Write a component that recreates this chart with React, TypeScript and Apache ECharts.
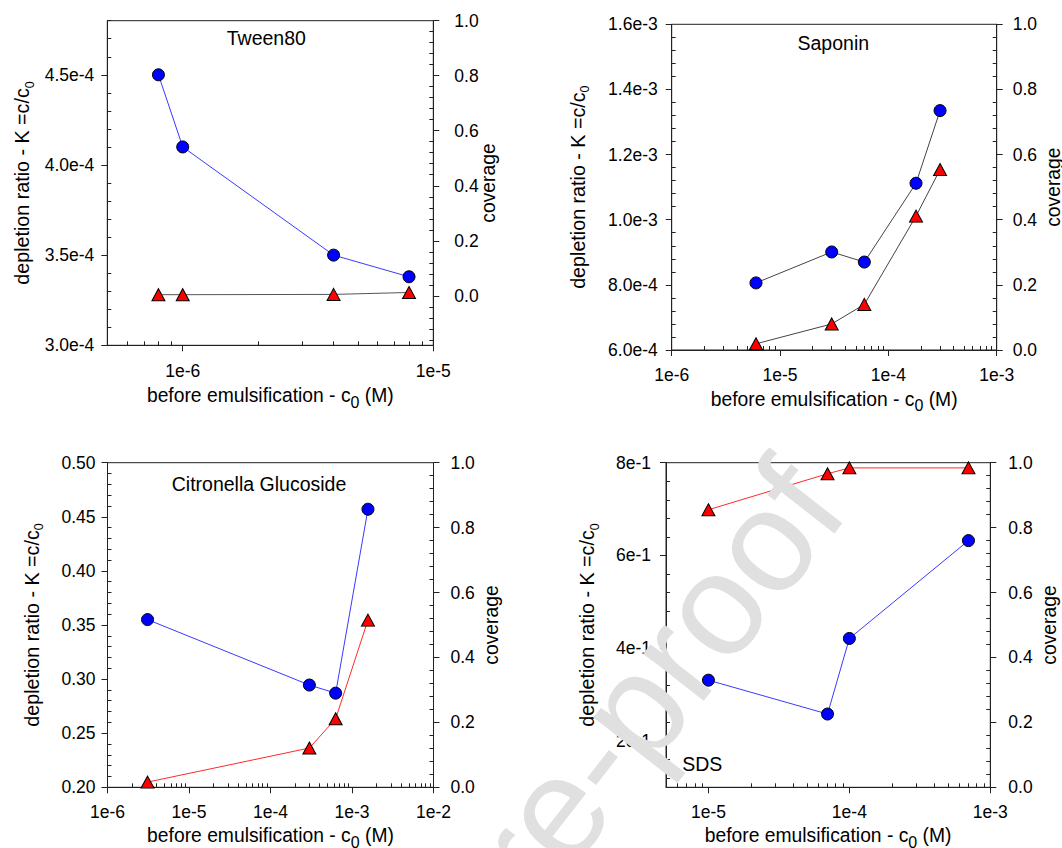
import React, { useEffect, useRef } from 'react';
import * as echarts from 'echarts';

const FONT = '"Liberation Sans", Arial, Helvetica, sans-serif';

// ---------- data ----------
const panelTitles = ['Tween80', 'Saponin', 'Citronella Glucoside', 'SDS'];

const tweenConc = [8e-7, 1e-6, 4e-6, 8e-6];
const tweenDepletion = [4.5e-4, 4.1e-4, 3.5e-4, 3.38e-4];
const tweenCoverage = [0.004, 0.004, 0.005, 0.012];

const saponinConc = [6e-6, 3e-5, 6e-5, 1.8e-4, 3e-4];
const saponinDepletion = [8.06e-4, 9.01e-4, 8.7e-4, 1.112e-3, 1.335e-3];
const saponinCoverage = [0.019, 0.08, 0.14, 0.411, 0.554];

const citroConc = [3.1e-6, 3e-4, 6.3e-4, 1.57e-3];
const citroDepletion = [0.355, 0.2945, 0.287, 0.457];
const citroCoverage = [0.016, 0.121, 0.211, 0.515];

const sdsConc = [1e-5, 7e-5, 1e-4, 7e-4];
const sdsDepletion = [0.331, 0.258, 0.421, 0.632];
const sdsCoverage = [0.855, 0.966, 0.984, 0.984];

// axis ranges / ticks
const xRanges = [[5e-7, 1e-5], [1e-6, 1e-3], [1e-6, 1e-2], [5e-6, 1e-3]];
const leftRanges = [[3.0e-4, 4.8e-4], [6.0e-4, 1.6e-3], [0.2, 0.5], [0.1, 0.8]];
const leftMajors = [
  [3.0e-4, 3.5e-4, 4.0e-4, 4.5e-4],
  [6.0e-4, 8.0e-4, 1.0e-3, 1.2e-3, 1.4e-3, 1.6e-3],
  [0.2, 0.25, 0.3, 0.35, 0.4, 0.45, 0.5],
  [0.2, 0.4, 0.6, 0.8],
];
const leftMinorSteps = [1e-5, 4e-5, 0.01, 0.04];
const rightRanges = [[-0.18, 1.0], [0, 1.0], [0, 1.0], [0, 1.0]];
const rightMajors = [0, 0.2, 0.4, 0.6, 0.8, 1.0];
const rightMinorStep = 0.04;

const leftFormatters = [
  (v: number) => v.toExponential(1),
  (v: number) => v.toExponential(1),
  (v: number) => v.toFixed(2),
  (v: number) => v.toExponential(0),
];

const circleLineColors = ['#3a3aff', '#444444', '#3a3aff', '#3a3aff'];
const triangleLineColors = ['#555555', '#444444', '#ff2a2a', '#ff2a2a'];

// ---------- layout (pixels) ----------
const grids = [
  { left: 107.3, top: 20.7, width: 326, height: 324.6 },
  { left: 671.7, top: 24.3, width: 325, height: 325.7 },
  { left: 107.5, top: 462.7, width: 326, height: 324.6 },
  { left: 666, top: 462.7, width: 324.3, height: 324.6 },
];
const leftLabelMargins = [13, 14, 12, 15];
const rightLabelMargins = [21, 16, 17, 18];
const xLabelMargins = [16.5, 16, 16, 16];
const leftNameGaps = [71, 80, 62, 65];
const rightNameGaps = [46, 47.6, 48, 49.7];
const xNameGaps = [36, 34.5, 34, 34];
const titlePos = [[266.3, 37.7], [833.3, 43.3], [259, 484], [702.3, 764]];

const TICK_FONT = 17.5;

const panelsData = [
  { conc: tweenConc, dep: tweenDepletion, cov: tweenCoverage },
  { conc: saponinConc, dep: saponinDepletion, cov: saponinCoverage },
  { conc: citroConc, dep: citroDepletion, cov: citroCoverage },
  { conc: sdsConc, dep: sdsDepletion, cov: sdsCoverage },
];

const AXIS_COLOR = '#222';

function linMinors(min: number, max: number, base: number, step: number, majors: number[]) {
  const out: number[] = [];
  const k0 = Math.ceil((min - base) / step - 1e-9);
  const k1 = Math.floor((max - base) / step + 1e-9);
  for (let k = k0; k <= k1; k++) {
    const v = +(base + k * step).toPrecision(12);
    if (majors.some((m) => Math.abs(m - v) < step * 1e-3)) continue;
    if (v < min - 1e-12 || v > max + 1e-12) continue;
    out.push(v);
  }
  return out;
}

function logMajors(lmin: number, lmax: number) {
  const out: number[] = [];
  for (let d = Math.ceil(lmin - 1e-9); d <= Math.floor(lmax + 1e-9); d++) out.push(d);
  return out;
}

function logMinors(lmin: number, lmax: number) {
  const out: number[] = [];
  for (let d = Math.floor(lmin) - 1; d <= Math.ceil(lmax); d++) {
    for (let m = 2; m <= 9; m++) {
      const v = d + Math.log10(m);
      if (v > lmin + 1e-9 && v < lmax - 1e-9) out.push(v);
    }
  }
  return out;
}

const yNameRich = {
  a: { fontFamily: FONT, fontSize: 19.7, lineHeight: 28, color: '#000' },
  s: { fontFamily: FONT, fontSize: 12.5, lineHeight: 12, verticalAlign: 'bottom', color: '#000' },
};
const xNameRich = {
  a: { fontFamily: FONT, fontSize: 19.3, lineHeight: 29, color: '#000' },
  s: { fontFamily: FONT, fontSize: 16, lineHeight: 16, verticalAlign: 'bottom', color: '#000' },
};

function buildOption() {
  const grid: any[] = [];
  const xAxis: any[] = [];
  const yAxis: any[] = [];
  const series: any[] = [];
  const graphic: any[] = [];

  for (let i = 0; i < 4; i++) {
    const g = grids[i];
    grid.push({
      left: g.left, top: g.top, width: g.width, height: g.height,
      show: true, borderColor: AXIS_COLOR, borderWidth: 1,
      backgroundColor: 'transparent', containLabel: false, outerBoundsMode: 'none',
    });

    const lmin = Math.log10(xRanges[i][0]);
    const lmax = Math.log10(xRanges[i][1]);
    const xm = logMajors(lmin, lmax);
    xAxis.push({
      type: 'value', gridIndex: i, position: 'bottom', min: lmin, max: lmax,
      axisLine: { show: true, onZero: false, lineStyle: { color: AXIS_COLOR, width: 1 } },
      axisTick: { show: true, inside: false, length: 6, customValues: xm, lineStyle: { color: AXIS_COLOR } },
      axisLabel: {
        show: true, customValues: xm, margin: xLabelMargins[i], fontSize: TICK_FONT, fontFamily: FONT, color: '#000',
        formatter: (v: number) => '1e' + Math.round(v),
      },
      splitLine: { show: false },
      name: '{a|before emulsification - c}{s|0}{a| (M)}',
      nameLocation: 'middle', nameGap: xNameGaps[i], nameMoveOverlap: false,
      nameTextStyle: { fontFamily: FONT, fontSize: 19.3, color: '#000', rich: xNameRich },
    });
    xAxis.push({
      type: 'value', gridIndex: i, position: 'bottom', min: lmin, max: lmax,
      axisLine: { show: false, onZero: false },
      axisTick: { show: true, inside: true, length: 4, customValues: logMinors(lmin, lmax), lineStyle: { color: AXIS_COLOR } },
      axisLabel: { show: false },
      splitLine: { show: false },
    });

    const [ymin, ymax] = leftRanges[i];
    const lm = leftMajors[i];
    yAxis.push({
      type: 'value', gridIndex: i, position: 'left', min: ymin, max: ymax,
      axisLine: { show: true, onZero: false, lineStyle: { color: AXIS_COLOR, width: 1 } },
      axisTick: { show: true, inside: false, length: 6, customValues: lm, lineStyle: { color: AXIS_COLOR } },
      axisLabel: {
        show: true, customValues: lm, margin: leftLabelMargins[i], fontSize: TICK_FONT, fontFamily: FONT, color: '#000',
        formatter: leftFormatters[i],
      },
      splitLine: { show: false },
      name: '{a|depletion ratio - K =c/c}{s|0}',
      nameLocation: 'middle', nameGap: leftNameGaps[i], nameMoveOverlap: false,
      nameTextStyle: { fontFamily: FONT, fontSize: 19.7, color: '#000', rich: yNameRich },
    });
    yAxis.push({
      type: 'value', gridIndex: i, position: 'left', min: ymin, max: ymax,
      axisLine: { show: false, onZero: false },
      axisTick: {
        show: true, inside: true, length: 4,
        customValues: linMinors(ymin, ymax, lm[0], leftMinorSteps[i], lm),
        lineStyle: { color: AXIS_COLOR },
      },
      axisLabel: { show: false },
      splitLine: { show: false },
    });

    const [rmin, rmax] = rightRanges[i];
    yAxis.push({
      type: 'value', gridIndex: i, position: 'right', min: rmin, max: rmax,
      axisLine: { show: true, onZero: false, lineStyle: { color: AXIS_COLOR, width: 1 } },
      axisTick: { show: true, inside: false, length: 6, customValues: rightMajors, lineStyle: { color: AXIS_COLOR } },
      axisLabel: {
        show: true, customValues: rightMajors, margin: rightLabelMargins[i], fontSize: TICK_FONT, fontFamily: FONT, color: '#000',
        formatter: (v: number) => v.toFixed(1),
      },
      splitLine: { show: false },
      name: 'coverage',
      nameLocation: 'middle', nameGap: rightNameGaps[i], nameMoveOverlap: false,
      nameTextStyle: { fontFamily: FONT, fontSize: 19.3, lineHeight: 19, color: '#000' },
    });
    yAxis.push({
      type: 'value', gridIndex: i, position: 'right', min: rmin, max: rmax,
      axisLine: { show: false, onZero: false },
      axisTick: {
        show: true, inside: true, length: 4,
        customValues: linMinors(rmin, rmax, 0, rightMinorStep, rightMajors),
        lineStyle: { color: AXIS_COLOR },
      },
      axisLabel: { show: false },
      splitLine: { show: false },
    });

    const pd = panelsData[i];
    series.push({
      type: 'line', xAxisIndex: 2 * i, yAxisIndex: 4 * i + 2,
      data: pd.conc.map((c, k) => [Math.log10(c), pd.cov[k]]),
      symbol: 'triangle', symbolSize: [13, 12], clip: false, silent: true,
      lineStyle: { color: triangleLineColors[i], width: 1 },
      itemStyle: { color: '#ff0000', borderColor: '#000', borderWidth: 1 },
      z: 3,
    });
    series.push({
      type: 'line', xAxisIndex: 2 * i, yAxisIndex: 4 * i,
      data: pd.conc.map((c, k) => [Math.log10(c), pd.dep[k]]),
      symbol: 'circle', symbolSize: 12, clip: false, silent: true,
      lineStyle: { color: circleLineColors[i], width: 1 },
      itemStyle: { color: '#0000ff', borderColor: '#000', borderWidth: 1 },
      z: 4,
    });

    graphic.push({
      type: 'text', x: titlePos[i][0], y: titlePos[i][1], z: 50, silent: true,
      style: {
        text: panelTitles[i], fontSize: 19.5, fontFamily: FONT, fill: '#000',
        align: 'center', verticalAlign: 'middle', textAlign: 'center', textVerticalAlign: 'middle',
      },
    });
  }

  // watermark (drawn on top, as in the reference)
  graphic.push({
    type: 'text', x: 812, y: 481, rotation: (52 * Math.PI) / 180, z: 100, silent: true,
    style: {
      text: 'Journal Pre-proof', fontSize: 145, fontFamily: FONT, fill: '#e0e0e0',
      align: 'right', verticalAlign: 'middle', textAlign: 'right', textVerticalAlign: 'middle',
    },
  });

  return {
    animation: false,
    backgroundColor: '#ffffff',
    grid, xAxis, yAxis, series, graphic,
  };
}

export default function App() {
  const ref = useRef<HTMLDivElement>(null);
  useEffect(() => {
    if (!ref.current) return;
    const chart = echarts.init(ref.current, undefined, { renderer: 'svg' });
    chart.setOption(buildOption() as any);
    return () => chart.dispose();
  }, []);
  return (
    <div
      ref={ref}
      style={{ position: 'absolute', left: 0, top: 0, width: 1062, height: 848, background: '#fff' }}
    />
  );
}
